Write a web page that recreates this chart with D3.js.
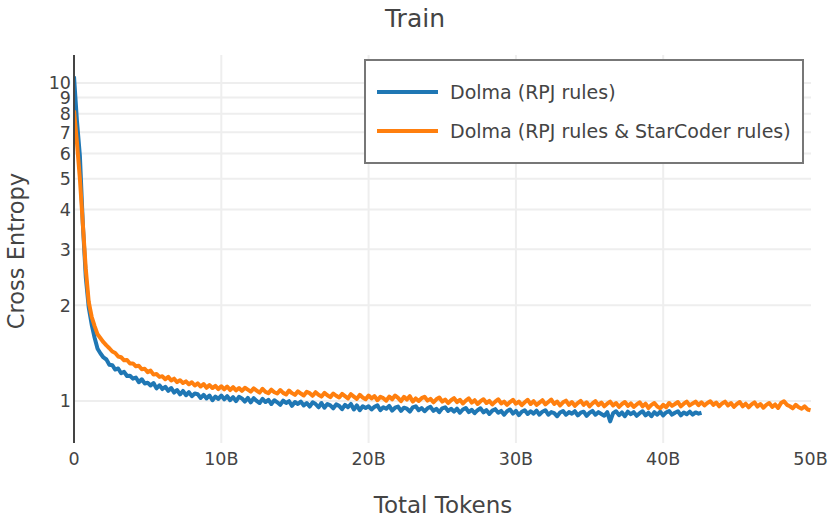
<!DOCTYPE html>
<html><head><meta charset="utf-8">
<script src="https://cdn.jsdelivr.net/npm/d3@7"></script>
<style>
body{margin:0;background:#fff}
text{font-family:"DejaVu Sans",Verdana,sans-serif;fill:#444}
</style>
</head><body>
<svg id="chart" width="830" height="520"></svg>
<script>
const chartTitle = "Train";
const xTitle = "Total Tokens";
const yTitle = "Cross Entropy";
const seriesNames = ["Dolma (RPJ rules)", "Dolma (RPJ rules & StarCoder rules)"];
const seriesColors = ["#1f77b4", "#ff7f0e"];
const tokenStep = 0.2e9; // logging interval (tokens between samples)
const xTickValues = [0, 10e9, 20e9, 30e9, 40e9, 50e9];
const xTickLabels = ["0", "10B", "20B", "30B", "40B", "50B"];
const yTickValues = [1, 2, 3, 4, 5, 6, 7, 8, 9, 10];
const yTickLabels = ["1", "2", "3", "4", "5", "6", "7", "8", "9", "10"];

// Dolma (RPJ rules) — one sample every 0.2B tokens, from 0
const rpjLoss = [
  10.5, 7.6, 5.9, 3.6, 2.45, 1.97, 1.74, 1.58, 1.46, 1.41,
  1.37, 1.35, 1.30, 1.295, 1.255, 1.265, 1.222, 1.235, 1.198, 1.2,
  1.175, 1.185, 1.145, 1.17, 1.135, 1.14, 1.118, 1.138, 1.095, 1.12,
  1.09, 1.108, 1.075, 1.098, 1.062, 1.082, 1.048, 1.075, 1.042, 1.065,
  1.035, 1.055, 1.05, 1.022, 1.045, 1.018, 1.04, 1.005, 1.032, 1.015,
  1.04, 1.012, 1.035, 1.005, 1.028, 0.998, 1.03, 1.018, 0.995, 1.022,
  0.99, 1.02, 1.0, 0.985, 1.015, 0.992, 1.008, 0.978, 1.005, 0.99,
  0.972, 1.002, 0.985, 0.998, 0.965, 0.992, 0.978, 0.995, 0.968, 0.985,
  0.96, 0.99, 0.978, 0.955, 0.985, 0.952, 0.978, 0.968, 0.948, 0.975,
  0.965, 0.942, 0.972, 0.955, 0.978, 0.94, 0.968, 0.935, 0.962, 0.95,
  0.962, 0.94, 0.958, 0.968, 0.935, 0.955, 0.945, 0.965, 0.932, 0.952,
  0.96, 0.93, 0.952, 0.945, 0.925, 0.955, 0.962, 0.935, 0.95, 0.928,
  0.948, 0.958, 0.93, 0.945, 0.922, 0.948, 0.955, 0.93, 0.945, 0.925,
  0.945, 0.918, 0.94, 0.95, 0.922, 0.938, 0.915, 0.935, 0.948, 0.92,
  0.935, 0.91, 0.932, 0.942, 0.918, 0.93, 0.905, 0.928, 0.94, 0.912,
  0.93, 0.902, 0.925, 0.935, 0.91, 0.928, 0.912, 0.932, 0.905, 0.925,
  0.935, 0.905, 0.922, 0.915, 0.895, 0.92, 0.93, 0.905, 0.922, 0.912,
  0.928, 0.9, 0.918, 0.925, 0.898, 0.918, 0.93, 0.905, 0.922, 0.91,
  0.898, 0.922, 0.862, 0.915, 0.928, 0.902, 0.92, 0.895, 0.925, 0.908,
  0.922, 0.898, 0.915, 0.928, 0.9, 0.918, 0.895, 0.922, 0.905, 0.925,
  0.9, 0.92, 0.93, 0.905, 0.918, 0.928, 0.9, 0.92, 0.908, 0.925,
  0.905, 0.92, 0.912, 0.918
];

// Dolma (RPJ rules & StarCoder rules) — one sample every 0.2B tokens, from 0
const rpjStarCoderLoss = [
  8.2, 6.5, 5.0, 3.6, 2.6, 2.05, 1.84, 1.72, 1.62, 1.575,
  1.53, 1.495, 1.465, 1.43, 1.415, 1.38, 1.372, 1.342, 1.345, 1.312,
  1.312, 1.285, 1.29, 1.258, 1.262, 1.232, 1.245, 1.21, 1.215, 1.19,
  1.195, 1.17, 1.19, 1.16, 1.175, 1.145, 1.162, 1.138, 1.152, 1.128,
  1.145, 1.118, 1.135, 1.11, 1.13, 1.1, 1.122, 1.098, 1.115, 1.09,
  1.112, 1.088, 1.11, 1.082, 1.105, 1.08, 1.098, 1.075, 1.1, 1.085,
  1.07, 1.095, 1.078, 1.062, 1.092, 1.068, 1.058, 1.085, 1.065, 1.055,
  1.082, 1.06, 1.048, 1.078, 1.058, 1.045, 1.072, 1.055, 1.04, 1.068,
  1.058, 1.038, 1.065, 1.045, 1.032, 1.06, 1.042, 1.028, 1.055, 1.038,
  1.025, 1.052, 1.035, 1.018, 1.05, 1.032, 1.015, 1.045, 1.025, 1.012,
  1.04, 1.018, 1.035, 1.005, 1.03, 1.02, 1.002, 1.032, 1.012, 1.04,
  1.022, 0.998, 1.03, 1.01, 1.035, 0.995, 1.018, 1.0, 1.02, 1.03,
  1.002, 1.015, 0.99, 1.012, 1.025, 0.995, 1.01, 0.985, 1.005, 1.02,
  0.992, 1.008, 0.982, 1.002, 1.018, 0.988, 1.005, 0.978, 0.998, 1.012,
  0.985, 1.0, 0.975, 0.995, 1.012, 0.982, 0.995, 0.972, 0.992, 1.008,
  0.98, 0.995, 0.97, 0.99, 1.008, 0.978, 0.998, 0.972, 0.988, 1.005,
  0.975, 0.992, 1.01, 0.978, 0.995, 0.968, 0.99, 1.002, 0.972, 0.992,
  0.965, 0.985, 1.0, 0.972, 0.99, 0.962, 0.982, 0.998, 0.97, 0.988,
  0.962, 0.98, 0.995, 0.968, 0.985, 0.958, 0.978, 0.992, 0.965, 0.982,
  0.958, 0.975, 0.99, 0.962, 0.98, 0.95, 0.972, 0.985, 0.96, 0.948,
  0.972, 0.955, 0.985, 0.965, 0.978, 0.992, 0.962, 0.98, 0.995, 0.968,
  0.982, 0.995, 0.97, 0.99, 0.968, 0.985, 0.998, 0.972, 0.988, 0.962,
  0.982, 0.995, 0.968, 0.985, 0.958, 0.978, 0.992, 0.962, 0.98, 0.955,
  0.975, 0.99, 0.96, 0.978, 0.952, 0.972, 0.985, 0.958, 0.975, 0.95,
  0.985, 0.998, 0.972, 0.962, 0.948, 0.972, 0.955, 0.945, 0.962, 0.94,
  0.935
];

const seriesData = [rpjLoss, rpjStarCoderLoss];

const svg = d3.select("#chart");
const plot = { left: 74, right: 811, top: 55, bottom: 443 };

const x = d3.scaleLinear().domain([0, 50e9]).range([74, 810.5]);
const y = d3.scaleLog().domain([0.7373, 12.25]).range([plot.bottom, plot.top]);

// clip
svg.append("defs").append("clipPath").attr("id", "clip")
  .append("rect").attr("x", plot.left).attr("y", plot.top)
  .attr("width", plot.right - plot.left).attr("height", plot.bottom - plot.top);

// grid
const grid = svg.append("g");
grid.selectAll("line.h").data(yTickValues).join("line")
  .attr("x1", plot.left).attr("x2", plot.right)
  .attr("y1", d => y(d)).attr("y2", d => y(d))
  .attr("stroke", "#eeeeee").attr("stroke-width", 2);
grid.selectAll("line.v").data(xTickValues.filter(v => v > 0 && v < 50e9)).join("line")
  .attr("x1", d => x(d)).attr("x2", d => x(d))
  .attr("y1", plot.top).attr("y2", plot.bottom)
  .attr("stroke", "#eeeeee").attr("stroke-width", 2);

// lines
const line = d3.line()
  .x((d, i) => x(i * tokenStep))
  .y(d => y(d));
const lines = svg.append("g").attr("clip-path", "url(#clip)");
seriesData.forEach((s, k) => {
  lines.append("path").datum(s)
    .attr("d", line)
    .attr("fill", "none")
    .attr("stroke", seriesColors[k])
    .attr("stroke-width", 4)
    .attr("stroke-linejoin", "round");
});

// zero line
svg.append("line")
  .attr("x1", x(0)).attr("x2", x(0))
  .attr("y1", plot.top).attr("y2", plot.bottom)
  .attr("stroke", "#444").attr("stroke-width", 2);

// tick labels
svg.append("g").selectAll("text").data(xTickValues).join("text")
  .attr("x", d => x(d)).attr("y", 465)
  .attr("text-anchor", "middle")
  .style("font-size", "17.5px")
  .text((d, i) => xTickLabels[i]);
svg.append("g").selectAll("text").data(yTickValues).join("text")
  .attr("x", 71).attr("y", d => y(d)).attr("dy", "0.36em")
  .attr("text-anchor", "end")
  .style("font-size", "17.5px")
  .text((d, i) => yTickLabels[i]);

// titles
svg.append("text").attr("x", 415).attr("y", 27).attr("text-anchor", "middle")
  .style("font-size", "25px").text(chartTitle);
svg.append("text").attr("x", 443).attr("y", 513).attr("text-anchor", "middle")
  .style("font-size", "23px").text(xTitle);
svg.append("text").attr("transform", "translate(24,251) rotate(-90)")
  .attr("text-anchor", "middle")
  .style("font-size", "22.5px").text(yTitle);

// legend
const lg = svg.append("g");
lg.append("rect").attr("x", 365).attr("y", 60).attr("width", 438).attr("height", 103)
  .attr("fill", "#fff").attr("stroke", "#777").attr("stroke-width", 2);
const legendY = [92, 131];
seriesNames.forEach((n, k) => {
  lg.append("line").attr("x1", 377).attr("x2", 438)
    .attr("y1", legendY[k]).attr("y2", legendY[k])
    .attr("stroke", seriesColors[k]).attr("stroke-width", 4);
  lg.append("text").attr("x", 450).attr("y", legendY[k]).attr("dy", "0.36em")
    .style("font-size", "19px").text(n);
});
</script>
</body></html>
